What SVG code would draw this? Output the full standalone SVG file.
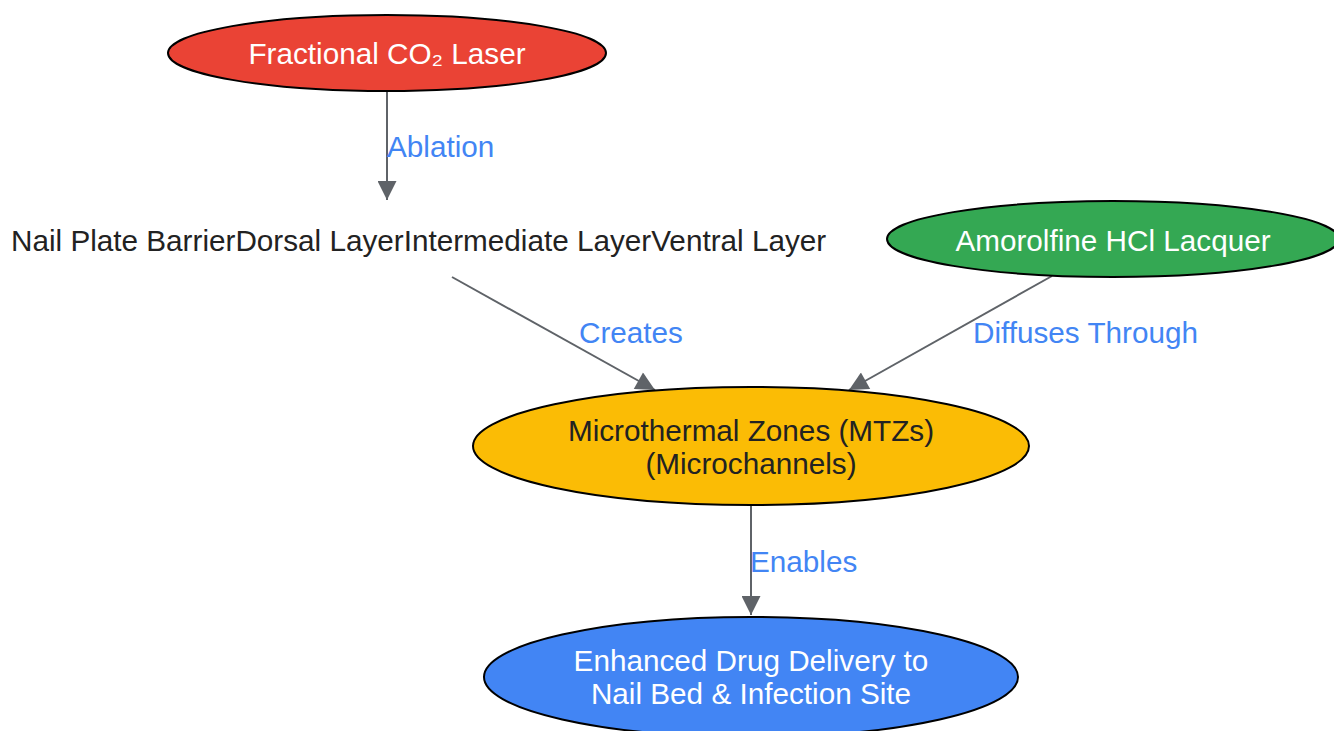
<svg xmlns="http://www.w3.org/2000/svg" width="1334" height="731" viewBox="0 0 1334 731">
<style>
.n{stroke:#000;stroke-width:2}
.t{font-family:"Liberation Sans",Arial,sans-serif;font-size:29.7px;text-anchor:middle}
.w{fill:#fff}
.d{fill:#222}
.e{stroke:#5f6368;stroke-width:2;fill:none}
.l{font-family:"Liberation Sans",Arial,sans-serif;font-size:29.7px;fill:#4285F4}
</style>
<defs>
<marker id="ah" viewBox="0 0 20 20" refX="20" refY="10" markerWidth="24" markerHeight="19" markerUnits="userSpaceOnUse" orient="auto">
<path d="M0,0L20,10L0,20z" fill="#5f6368"/>
</marker>
</defs>
<g id="connectors">
<line class="e" x1="387" y1="91" x2="387" y2="200" marker-end="url(#ah)"/>
<text class="l" x="387" y="157">Ablation</text>
<line class="e" x1="452" y1="277" x2="655" y2="390" marker-end="url(#ah)"/>
<text class="l" x="579" y="343">Creates</text>
<line class="e" x1="1052" y1="276" x2="849" y2="390" marker-end="url(#ah)"/>
<text class="l" x="973" y="343">Diffuses Through</text>
<line class="e" x1="751" y1="505" x2="751" y2="615" marker-end="url(#ah)"/>
<text class="l" x="750" y="572">Enables</text>
</g>
<g id="laser">
<ellipse class="n" cx="387" cy="53" rx="219" ry="38" fill="#EA4335"/>
<text class="t w" x="387" y="64">Fractional CO₂ Laser</text>
</g>
<g id="nailplate">
<text x="11" y="251" style="font-family:'Liberation Sans',Arial,sans-serif;font-size:29.7px;fill:#222">Nail Plate BarrierDorsal LayerIntermediate LayerVentral Layer</text>
</g>
<g id="amorolfine">
<ellipse class="n" cx="1113" cy="239" rx="226" ry="38" fill="#34A853"/>
<text class="t w" x="1113" y="251">Amorolfine HCl Lacquer</text>
</g>
<g id="mtz">
<ellipse class="n" cx="751" cy="446" rx="278" ry="59" fill="#FBBC05"/>
<text class="t d" x="751" y="441">Microthermal Zones (MTZs)</text>
<text class="t d" x="751" y="474">(Microchannels)</text>
</g>
<g id="delivery">
<ellipse class="n" cx="751" cy="677" rx="267" ry="60" fill="#4285F4"/>
<text class="t w" x="751" y="671">Enhanced Drug Delivery to</text>
<text class="t w" x="751" y="704">Nail Bed &amp; Infection Site</text>
</g>
</svg>
